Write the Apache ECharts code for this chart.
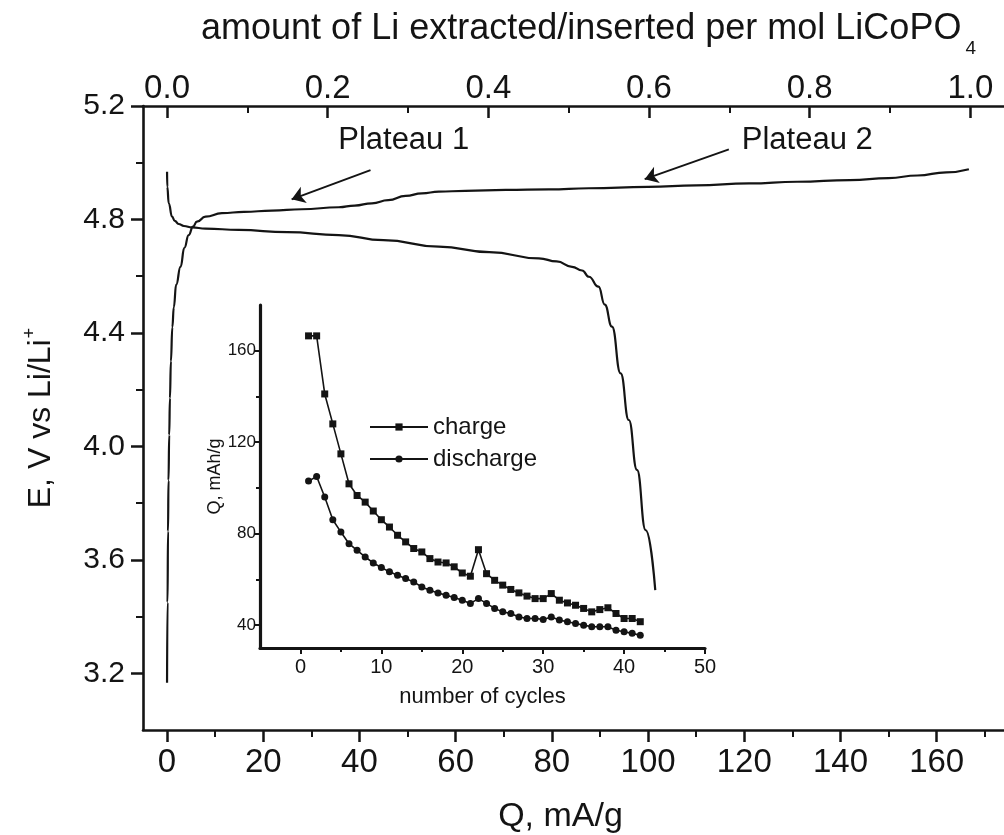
<!DOCTYPE html>
<html>
<head>
<meta charset="utf-8">
<script src="https://cdn.jsdelivr.net/npm/echarts@6/dist/echarts.min.js"></script>
<style>
  html, body { margin: 0; padding: 0; background: #fff; }
  #chart { width: 1004px; height: 835px; }
</style>
</head>
<body>
<div id="chart"></div>
<script>
// ---- First-cycle voltage profile (Q in mAh/g, E in V vs Li/Li+) ----
const chargeQ = [0, 0.1, 0.2, 0.3, 0.45, 0.6, 0.8, 1.1, 1.4, 1.9,
                 2.8, 3.6, 4.5, 5.4, 6.2, 8, 11.4, 16, 21.8, 28,
                 35.7, 39, 42.6, 46, 49.6, 53, 56.5, 62, 70.4, 79.4,
                 87.7, 100, 110, 121, 131, 142, 150, 156, 162, 166.7];
const chargeE = [3.167, 3.45, 3.70, 3.88, 4.04, 4.17, 4.30, 4.42, 4.49, 4.57,
                 4.633, 4.70, 4.745, 4.775, 4.792, 4.81, 4.822, 4.827, 4.831, 4.836,
                 4.843, 4.849, 4.857, 4.868, 4.883, 4.892, 4.898, 4.901, 4.904, 4.906,
                 4.91, 4.915, 4.92, 4.927, 4.933, 4.939, 4.946, 4.955, 4.966, 4.977];

const dischargeQ = [0, 0.05, 0.35, 1.04, 1.6, 2.4, 3.5, 5.2, 8, 14.9,
                    25, 35.7, 45, 56.5, 67, 77.3, 81, 84.2, 86.3, 87.7,
                    89.7, 91, 92.5, 94.3, 96, 97.7, 99.5, 101.5];
const dischargeE = [4.968, 4.915, 4.857, 4.81, 4.795, 4.784, 4.777, 4.772, 4.768, 4.763,
                    4.755, 4.745, 4.727, 4.704, 4.685, 4.663, 4.652, 4.633, 4.62, 4.598,
                    4.563, 4.50, 4.422, 4.257, 4.093, 3.917, 3.705, 3.493];

// ---- Cycling capacity (inset) ----
const cycleNo = [1, 2, 3, 4, 5, 6, 7, 8, 9, 10, 11, 12, 13, 14, 15, 16, 17, 18, 19, 20, 21,
                 22, 23, 24, 25, 26, 27, 28, 29, 30, 31, 32, 33, 34, 35, 36, 37, 38, 39, 40, 41, 42];
const cycleCharge = [166.5, 166.5, 141.1, 128.0, 114.9, 101.8, 96.7, 93.8, 89.9, 86.1, 82.9,
                     79.3, 76.4, 73.5, 72.0, 69.1, 67.6, 67.2, 65.5, 62.8, 61.4,
                     73.0, 62.5, 59.6, 57.5, 55.6, 54.1, 52.7, 51.6, 51.6, 53.8,
                     50.9, 49.7, 48.7, 47.3, 45.8, 46.8, 47.6, 45.1, 42.9, 42.9, 41.5];
const cycleDischarge = [103.0, 105.0, 96.0, 86.1, 80.7, 75.6, 72.7, 69.8, 67.2, 65.2, 63.3,
                        61.8, 60.4, 58.9, 56.7, 55.3, 54.1, 53.1, 52.1, 50.9, 49.5,
                        51.6, 49.5, 47.3, 45.8, 45.1, 43.6, 42.9, 42.9, 42.5, 43.6,
                        42.2, 41.5, 40.7, 40.0, 39.3, 39.3, 39.3, 37.8, 37.1, 36.4, 35.6];

// ---- Axis ranges and tick values ----
const LI_CAPACITY = 167;               // mAh/g for one Li per LiCoPO4
const qRange = [-5, 174];
const qTicks = [0, 20, 40, 60, 80, 100, 120, 140, 160];
const qMinor = [10, 30, 50, 70, 90, 110, 130, 150, 170];
const liTicks = [0, 0.2, 0.4, 0.6, 0.8, 1.0];
const liMinor = [0.1, 0.3, 0.5, 0.7, 0.9];
const eRange = [3.0, 5.2];
const eTicks = [3.2, 3.6, 4.0, 4.4, 4.8, 5.2];
const eMinor = [3.4, 3.8, 4.2, 4.6, 5.0];
const cycleRange = [-5, 50];
const cycleTicks = [0, 10, 20, 30, 40, 50];
const cycleMinor = [5, 15, 25, 35, 45];
const capRange = [30, 180];
const capTicks = [40, 80, 120, 160];
const capMinor = [60, 100, 140];

// ---- Annotations ----
const plateauNames = ['Plateau 1', 'Plateau 2'];
const plateauTextAt = [[49.2, 5.08], [133.1, 5.08]];
const plateauArrowFrom = [[42.3, 4.974], [116.8, 5.047]];
const plateauArrowTo = [[25.9, 4.871], [99.3, 4.942]];

const INK = '#141414';
const SANS = '"Liberation Sans", Arial, sans-serif';

const zip = (a, b) => a.map((v, i) => [v, b[i]]);

function axisBase(opts) {
  return Object.assign({
    type: 'value',
    splitLine: { show: false },
    axisLine: { show: true, onZero: false, lineStyle: { color: INK, width: 2.6 } },
    axisTick: { show: true, lineStyle: { color: INK, width: 2.5 } },
    axisLabel: { color: INK }
  }, opts);
}
function minorAxis(opts, ticks, len, inside) {
  return Object.assign({
    type: 'value',
    splitLine: { show: false },
    axisLine: { show: false, onZero: false },
    axisLabel: { show: false },
    axisTick: { show: true, inside: !!inside, length: len, customValues: ticks,
                lineStyle: { color: INK, width: 2 } }
  }, opts);
}

const mainGrid = { left: 143, top: 106, width: 861, height: 624, outerBoundsMode: 'none', containLabel: false };
const insetGrid = { left: 260, top: 305, width: 445, height: 343, outerBoundsMode: 'none', containLabel: false };

const option = {
  animation: false,
  backgroundColor: '#fff',
  grid: [
    Object.assign({}, mainGrid),
    Object.assign({}, mainGrid),
    Object.assign({}, insetGrid),
    Object.assign({}, insetGrid)
  ],
  xAxis: [
    axisBase({
      gridIndex: 0, position: 'bottom', min: qRange[0], max: qRange[1],
      name: 'Q, mA/g', nameLocation: 'middle', nameGap: 70,
      nameTextStyle: { fontFamily: SANS, fontSize: 34, color: INK, padding: [0, 26, 0, 0] },
      axisTick: { show: true, length: 12, customValues: qTicks, lineStyle: { color: INK, width: 2.5 } },
      axisLabel: { customValues: qTicks, margin: 16, fontFamily: SANS, fontSize: 33, color: INK }
    }),
    axisBase({
      gridIndex: 0, position: 'top', min: qRange[0] / LI_CAPACITY, max: qRange[1] / LI_CAPACITY,
      name: 'amount of Li extracted/inserted per mol LiCoPO{sub|4}', nameLocation: 'middle', nameGap: 48,
      nameTextStyle: {
        fontFamily: SANS, fontSize: 36, color: INK, padding: [0, 0, 0, 30],
        rich: { sub: { fontFamily: SANS, fontSize: 19, color: INK, padding: [38, 0, 0, 4] } }
      },
      axisTick: { show: true, inside: true, length: 12, customValues: liTicks, lineStyle: { color: INK, width: 2.5 } },
      axisLabel: { customValues: liTicks, margin: 1, fontFamily: SANS, fontSize: 33, color: INK,
                   formatter: v => v.toFixed(1) }
    }),
    minorAxis({ gridIndex: 1, position: 'bottom', min: qRange[0], max: qRange[1] }, qMinor, 7, false),
    minorAxis({ gridIndex: 1, position: 'top', min: qRange[0] / LI_CAPACITY, max: qRange[1] / LI_CAPACITY }, liMinor, 7, true),
    axisBase({
      gridIndex: 2, position: 'bottom', min: cycleRange[0], max: cycleRange[1],
      name: 'number of cycles', nameLocation: 'middle', nameGap: 38,
      nameTextStyle: { fontFamily: SANS, fontSize: 22, color: INK },
      axisLine: { show: true, onZero: false, lineStyle: { color: INK, width: 3.2 } },
      axisTick: { show: true, length: 6, customValues: cycleTicks, lineStyle: { color: INK, width: 2 } },
      axisLabel: { customValues: cycleTicks, margin: 9, fontFamily: SANS, fontSize: 20, color: INK }
    }),
    minorAxis({ gridIndex: 3, position: 'bottom', min: cycleRange[0], max: cycleRange[1] }, cycleMinor, 4, false)
  ],
  yAxis: [
    axisBase({
      gridIndex: 0, position: 'left', min: eRange[0], max: eRange[1],
      name: 'E, V vs Li/Li{sup|+}', nameLocation: 'middle', nameGap: 82,
      nameTextStyle: {
        fontFamily: SANS, fontSize: 32, color: INK,
        rich: { sup: { fontFamily: SANS, fontSize: 18, color: INK, padding: [0, 0, 22, 1] } }
      },
      axisTick: { show: true, length: 12, customValues: eTicks, lineStyle: { color: INK, width: 2.5 } },
      axisLabel: { customValues: eTicks, margin: 18, fontFamily: SANS, fontSize: 30, color: INK,
                   formatter: v => v.toFixed(1) }
    }),
    minorAxis({ gridIndex: 1, position: 'left', min: eRange[0], max: eRange[1] }, eMinor, 7, false),
    axisBase({
      gridIndex: 2, position: 'left', min: capRange[0], max: capRange[1],
      name: 'Q, mAh/g', nameLocation: 'middle', nameGap: 33,
      nameTextStyle: { fontFamily: SANS, fontSize: 18, color: INK },
      axisLine: { show: true, onZero: false, lineStyle: { color: INK, width: 3.2 } },
      axisTick: { show: true, length: 6, customValues: capTicks, lineStyle: { color: INK, width: 2 } },
      axisLabel: { customValues: capTicks, margin: 4, fontFamily: SANS, fontSize: 17, color: INK }
    }),
    minorAxis({ gridIndex: 3, position: 'left', min: capRange[0], max: capRange[1] }, capMinor, 4, false)
  ],
  legend: {
    data: ['charge', 'discharge'],
    orient: 'vertical', left: 364, top: 410,
    itemWidth: 58, itemHeight: 9, itemGap: 8,
    textStyle: { fontFamily: SANS, fontSize: 24, color: INK }
  },
  series: [
    {
      name: 'first charge', type: 'line', xAxisIndex: 0, yAxisIndex: 0,
      data: zip(chargeQ, chargeE), showSymbol: false,
      smooth: 0.5, smoothMonotone: 'x',
      lineStyle: { color: INK, width: 2.2 },
      markPoint: {
        silent: true, symbol: 'circle', symbolSize: 0,
        label: { show: true, position: 'inside', formatter: '{b}', fontFamily: SANS, fontSize: 31, color: INK },
        data: plateauNames.map((n, i) => ({ name: n, coord: plateauTextAt[i] }))
      }
    },
    {
      name: 'first discharge', type: 'line', xAxisIndex: 0, yAxisIndex: 0,
      data: zip(dischargeQ, dischargeE), showSymbol: false,
      smooth: 0.5, smoothMonotone: 'x',
      lineStyle: { color: INK, width: 2.2 }
    },
    {
      // pointer arrows towards the two plateaus
      name: 'plateau arrows', type: 'lines', coordinateSystem: 'cartesian2d',
      xAxisIndex: 0, yAxisIndex: 0, silent: true,
      symbol: ['none', 'arrow'], symbolSize: 13,
      lineStyle: { color: INK, width: 2, opacity: 1 },
      data: plateauArrowFrom.map((p, i) => ({ coords: [p, plateauArrowTo[i]] }))
    },
    {
      name: 'charge', type: 'line', xAxisIndex: 4, yAxisIndex: 2,
      data: zip(cycleNo, cycleCharge),
      symbol: 'rect', symbolSize: 7,
      itemStyle: { color: INK }, lineStyle: { color: INK, width: 1.6 }
    },
    {
      name: 'discharge', type: 'line', xAxisIndex: 4, yAxisIndex: 2,
      data: zip(cycleNo, cycleDischarge),
      symbol: 'circle', symbolSize: 7,
      itemStyle: { color: INK }, lineStyle: { color: INK, width: 1.6 }
    }
  ]
};

const chart = echarts.init(document.getElementById('chart'));
chart.setOption(option);
</script>
</body>
</html>
